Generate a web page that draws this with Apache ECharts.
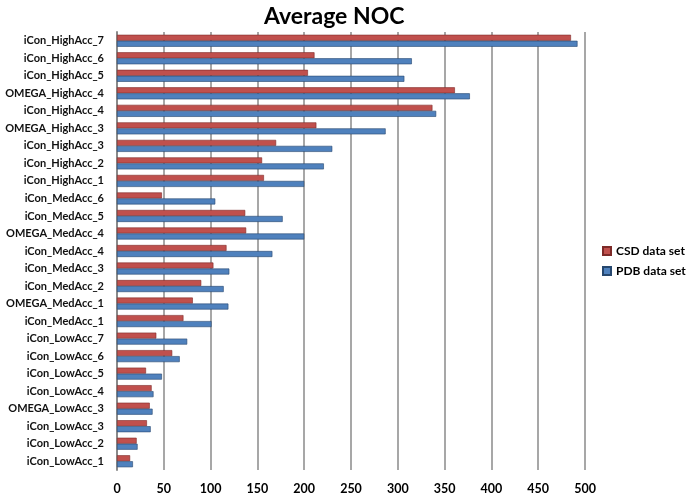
<!DOCTYPE html>
<html>
<head>
<meta charset="utf-8">
<script src="https://cdn.jsdelivr.net/npm/echarts@6/dist/echarts.min.js"></script>
<style>
  html, body { margin: 0; padding: 0; background: #fff; }
  #chart { width: 686px; height: 495px; }
</style>
</head>
<body>
<div id="chart"></div>
<script>
// bottom to top, as on the axis
const categories = [
  'iCon_LowAcc_1', 'iCon_LowAcc_2', 'iCon_LowAcc_3', 'OMEGA_LowAcc_3', 'iCon_LowAcc_4',
  'iCon_LowAcc_5', 'iCon_LowAcc_6', 'iCon_LowAcc_7', 'iCon_MedAcc_1', 'OMEGA_MedAcc_1',
  'iCon_MedAcc_2', 'iCon_MedAcc_3', 'iCon_MedAcc_4', 'OMEGA_MedAcc_4', 'iCon_MedAcc_5',
  'iCon_MedAcc_6', 'iCon_HighAcc_1', 'iCon_HighAcc_2', 'iCon_HighAcc_3', 'OMEGA_HighAcc_3',
  'iCon_HighAcc_4', 'OMEGA_HighAcc_4', 'iCon_HighAcc_5', 'iCon_HighAcc_6', 'iCon_HighAcc_7'
];
const csdValues = [14, 21, 32, 35, 37, 31, 59, 42, 71, 81, 90, 103, 117, 138, 137, 48, 157, 155, 170, 213, 337, 361, 204, 211, 485];
const pdbValues = [17, 22, 36, 38, 39, 48, 67, 75, 101, 119, 114, 120, 166, 200, 177, 105, 200, 221, 230, 287, 341, 377, 307, 315, 492];
const xTicks = { min: 0, max: 500, interval: 50 };

const chart = echarts.init(document.getElementById('chart'));

const option = {
  animation: false,
  title: {
    text: 'Average NOC',
    left: 259,
    top: 0,
    textStyle: { fontFamily: 'Lato', fontSize: 23, fontWeight: 'bold', color: '#000' }
  },
  legend: {
    orient: 'vertical',
    left: 597,
    top: 240,
    itemWidth: 8,
    itemHeight: 8,
    itemGap: 8,
    icon: 'rect',
    textStyle: { fontFamily: 'Lato', fontSize: 12, fontWeight: 'bold', color: '#000' },
    data: ['CSD data set', 'PDB data set']
  },
  grid: { left: 117, right: 101, top: 32, bottom: 25, containLabel: false, outerBoundsMode: 'none' },
  xAxis: {
    type: 'value',
    min: xTicks.min,
    max: xTicks.max,
    interval: xTicks.interval,
    axisLine: { show: false },
    axisTick: { show: false },
    axisLabel: { fontFamily: 'Lato', fontSize: 12.5, fontWeight: 'bold', color: '#000', margin: 12 },
    splitLine: { lineStyle: { color: '#8a8a8a', width: 1.5 } }
  },
  yAxis: {
    type: 'category',
    data: categories,
    axisLine: { show: true, lineStyle: { color: '#8a8a8a', width: 2 } },
    axisTick: { show: false },
    axisLabel: { fontFamily: 'Lato', fontSize: 11, fontWeight: 'bold', color: '#111', margin: 13 }
  },
  series: [
    {
      name: 'CSD data set',
      type: 'bar',
      data: csdValues,
      barWidth: 6,
      barGap: '0%',
      itemStyle: { color: '#C0504D', borderColor: '#7d2a28', borderWidth: 0.6 }
    },
    {
      name: 'PDB data set',
      type: 'bar',
      data: pdbValues,
      barWidth: 6,
      barGap: '0%',
      itemStyle: { color: '#4F81BD', borderColor: '#26476e', borderWidth: 0.6 }
    }
  ]
};

chart.setOption(option);
window.addEventListener('resize', function () {
  chart.resize();
});
</script>
</body>
</html>
